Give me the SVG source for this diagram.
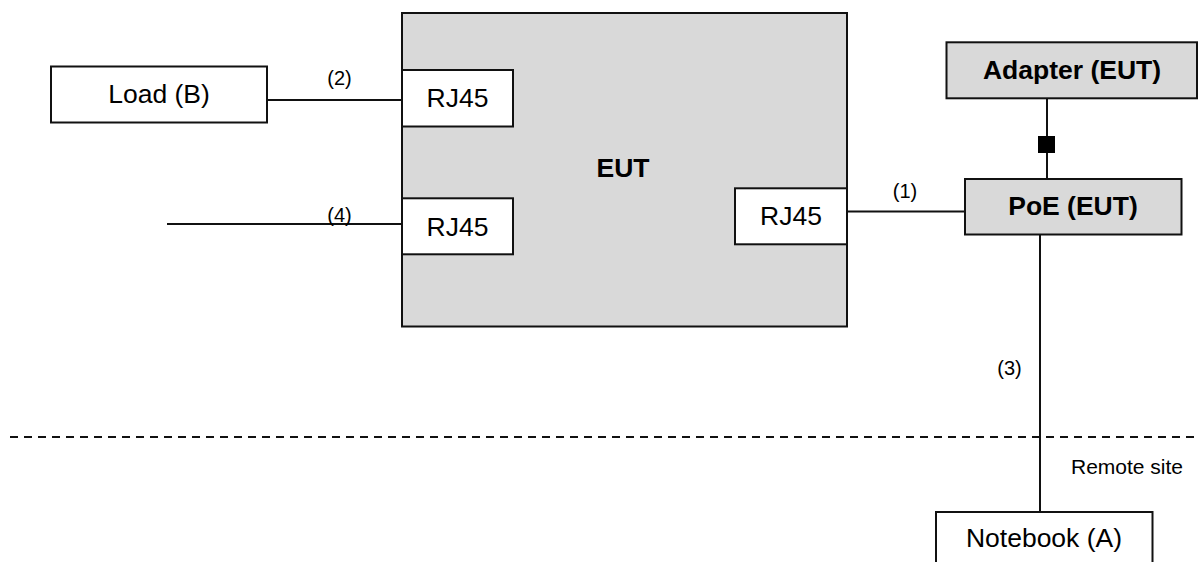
<svg xmlns="http://www.w3.org/2000/svg" width="1198" height="562" viewBox="0 0 1198 562">
<style>
.box{stroke:#111;stroke-width:2;fill:#fff}
.gray{fill:#d9d9d9}
.t{font-family:"Liberation Sans",Arial,sans-serif;font-size:26.5px;fill:#000;text-anchor:middle}
.b{font-weight:bold}
.lbl{font-family:"Liberation Sans",Arial,sans-serif;font-size:20px;fill:#000;text-anchor:middle}
.ln{stroke:#111;stroke-width:2;fill:none}
</style>
<rect width="1198" height="562" fill="#fff"/>
<g id="connectors">
<line class="ln" x1="267" y1="100" x2="402" y2="100"/>
<line class="ln" x1="167" y1="224" x2="402" y2="224"/>
<line class="ln" x1="847" y1="211.5" x2="965" y2="211.5"/>
<line class="ln" x1="1047" y1="98" x2="1047" y2="179"/>
<rect x="1038" y="136" width="17" height="17" fill="#000"/>
<line class="ln" x1="1040" y1="234" x2="1040" y2="512"/>
<line class="ln" x1="10" y1="437" x2="1198" y2="437" stroke-dasharray="8 6"/>
<text class="lbl" x="339.5" y="85">(2)</text>
<text class="lbl" x="339.5" y="221.5">(4)</text>
<text class="lbl" x="905" y="198">(1)</text>
<text class="lbl" x="1009.5" y="375">(3)</text>
</g>
<g id="load">
<rect class="box" x="51" y="66.5" width="216" height="56"/>
<text class="t" x="159" y="103.3">Load (B)</text>
</g>
<g id="eut">
<rect class="box gray" x="402" y="13" width="445" height="313.5"/>
<text class="t b" x="623" y="177">EUT</text>
</g>
<g id="rj45-top">
<rect class="box" x="402" y="70" width="111" height="56.5"/>
<text class="t" x="457.5" y="107">RJ45</text>
</g>
<g id="rj45-bottom">
<rect class="box" x="402" y="198.3" width="111" height="56"/>
<text class="t" x="457.5" y="235.5">RJ45</text>
</g>
<g id="rj45-right">
<rect class="box" x="735" y="188.3" width="112" height="56"/>
<text class="t" x="791" y="225">RJ45</text>
</g>
<g id="adapter">
<rect class="box gray" x="946.5" y="42.3" width="250.5" height="56"/>
<text class="t b" x="1072" y="79.3">Adapter (EUT)</text>
</g>
<g id="poe">
<rect class="box gray" x="965" y="179" width="216.5" height="55.5"/>
<text class="t b" x="1073" y="215">PoE (EUT)</text>
</g>
<g id="notebook">
<rect class="box" x="936" y="512" width="216.5" height="70"/>
<text class="t" x="1044" y="547.3">Notebook (A)</text>
</g>
<g id="remote-site">
<text class="lbl" x="1127" y="474" style="font-size:21px">Remote site</text>
</g>
</svg>
